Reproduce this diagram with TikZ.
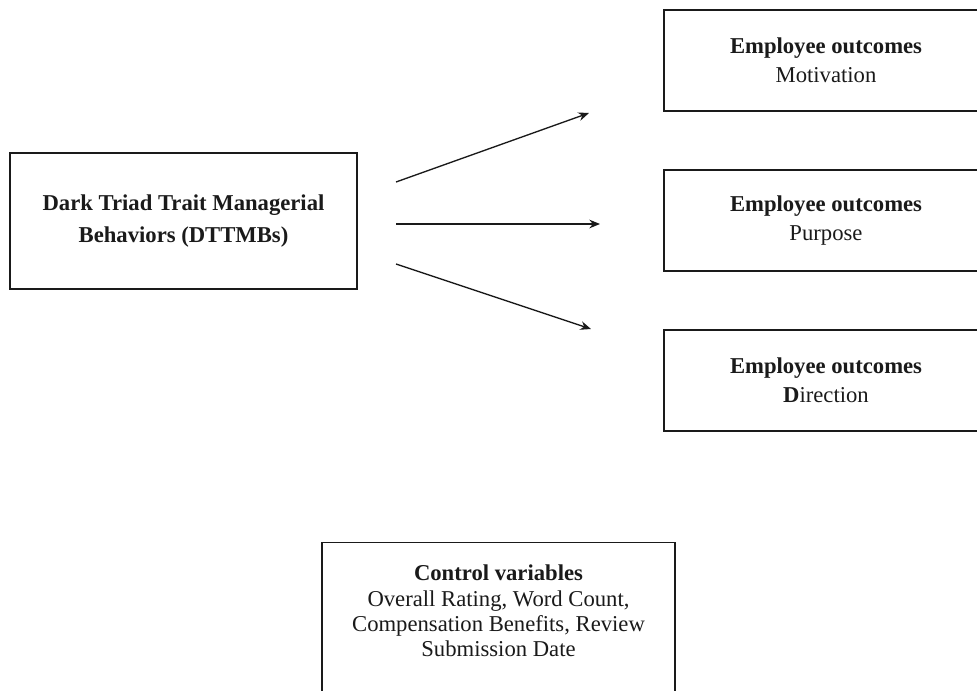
\documentclass[tikz,border=0pt]{standalone}
\usepackage{fontspec}
\setmainfont{Liberation Serif}
\usepackage{xcolor}
\usepackage{tikz}
\usetikzlibrary{arrows.meta,positioning}
\definecolor{ink}{HTML}{1A1A1A}
\definecolor{paper}{HTML}{FFFFFF}
\tikzset{
  box/.style={draw=ink, line width=1pt, align=center, inner sep=0pt},
  txt/.style={font=\fontsize{17}{22}\selectfont, text=ink},
  mainbox/.style={box, font=\fontsize{17}{24}\selectfont, text=ink, minimum width=260.25pt, minimum height=102pt},
  outbox/.style={box, txt, minimum width=243pt, minimum height=75.75pt},
  ctrlbox/.style={box, minimum width=264.75pt, minimum height=150pt},
  ctrltxt/.style={align=center, inner sep=0pt, font=\fontsize{17}{19}\selectfont, text=ink},
  link/.style={draw=ink, line width=1pt, -{Stealth[length=8pt,width=6.5pt]}},
}
\begin{document}
\begin{tikzpicture}[x=0.75pt,y=-0.75pt]
  \fill[paper] (0,0) rectangle (977,690);
  \clip (0,0) rectangle (977,690);
  \node[mainbox] (dttmb) at (183.5,221) {\textbf{Dark Triad Trait Managerial}\\\textbf{Behaviors (DTTMBs)}};
  \node[outbox] (motiv) at (826,60.5) {\textbf{Employee outcomes}\\Motivation};
  \node[outbox] (purp) at (826,220.5) {\textbf{Employee outcomes}\\Purpose};
  \node[outbox] (direc) at (826,380.5) {\textbf{Employee outcomes}\\\textbf{D}irection};
  \node[ctrlbox, anchor=north] (ctrlframe) at (498.5,542) {};
  \node[ctrltxt, below=17pt of ctrlframe.north] (ctrl) {\textbf{Control variables}\\Overall Rating, Word Count,\\Compensation Benefits, Review\\Submission Date};
  % arrow ends
  \coordinate (a1) at (396,182);
  \coordinate (a2) at (396,224);
  \coordinate (a3) at (396,264);
  \coordinate (b1) at (589,113);
  \coordinate (b2) at (600,224);
  \coordinate (b3) at (591,329);
  \foreach \i in {1,2,3}
    \draw[link] (a\i) -- (b\i);
\end{tikzpicture}
\end{document}
